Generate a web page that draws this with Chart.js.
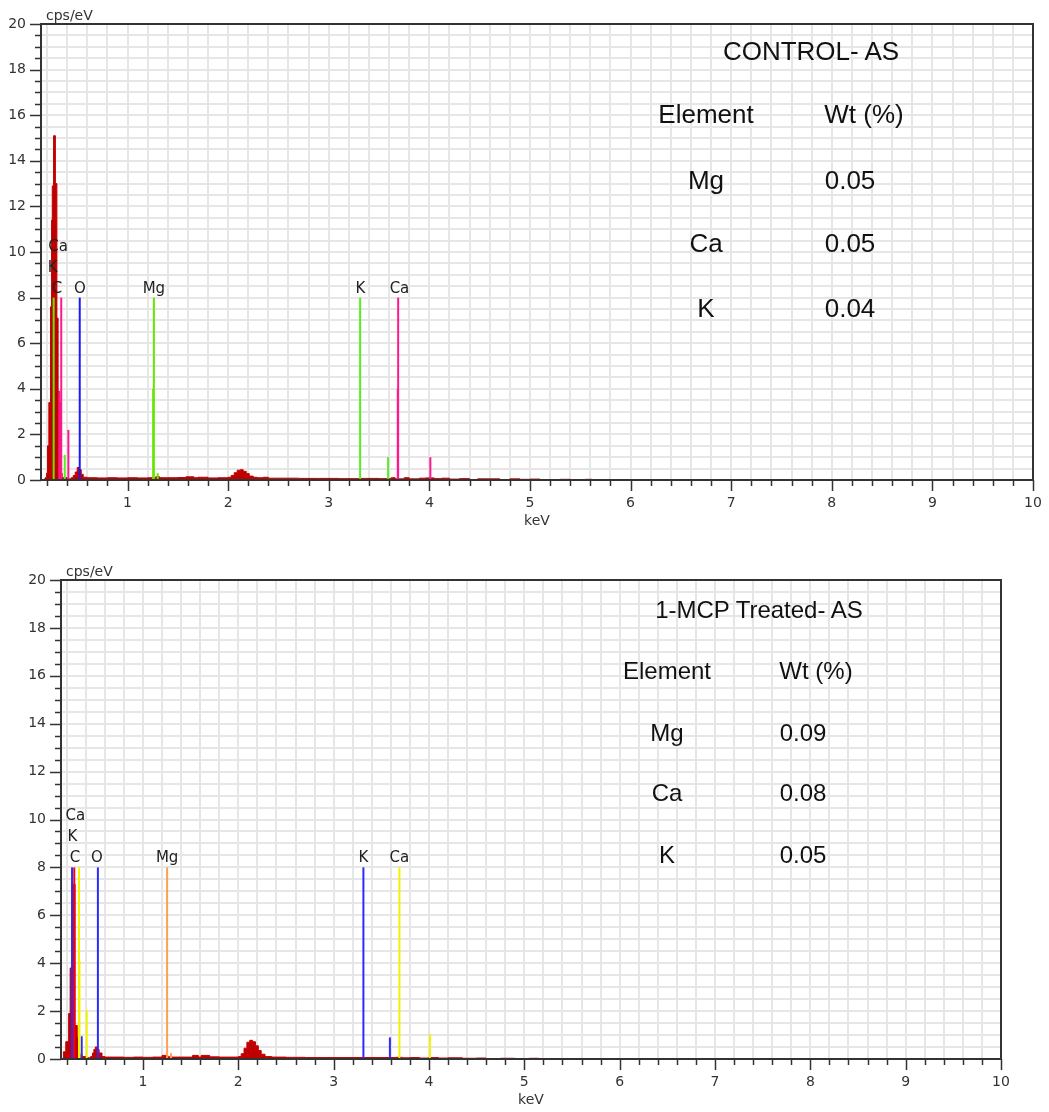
<!DOCTYPE html>
<html>
<head>
<meta charset="utf-8">
<script src="https://cdn.jsdelivr.net/npm/chart.js@4.4.1/dist/chart.umd.min.js"></script>
<style>
  html, body { margin: 0; padding: 0; background: #fff; }
  #wrap { position: relative; width: 1049px; height: 1112px; overflow: hidden; }
  canvas { position: absolute; left: 0; }
  .tx { position: absolute; font-family: "Liberation Sans", Arial, sans-serif; color: #111;
        line-height: 1; white-space: nowrap; transform: translate(-50%, -50%); }
</style>
</head>
<body>
<div id="wrap">
  <canvas id="c1" width="1049" height="530" style="top:0px"></canvas>
  <canvas id="c2" width="1049" height="553" style="top:556px"></canvas>
</div>
<script>
// ---------------- DATA ----------------
// Control spectrum (keV, cps/eV)
const ctrlKeV = [
  0.14, 0.18, 0.195, 0.205, 0.218, 0.235, 0.245, 0.252, 0.265, 0.283,
  0.298, 0.31, 0.322, 0.335, 0.35, 0.40, 0.44, 0.46, 0.48, 0.50,
  0.52, 0.54, 0.56, 0.60, 0.70, 0.80, 0.90, 1.00, 1.10, 1.20,
  1.28, 1.32, 1.40, 1.50, 1.58, 1.66, 1.70, 1.80, 1.90, 2.00,
  2.03, 2.06, 2.09, 2.12, 2.15, 2.18, 2.21, 2.25, 2.29, 2.35,
  2.40, 2.50, 2.70, 2.90, 3.10, 3.30, 3.50, 3.62, 3.66, 3.75,
  3.80, 3.90, 3.96, 4.05, 4.12, 4.20, 4.30, 4.40, 4.48, 4.60,
  4.70, 4.80, 4.90, 5.00, 5.10, 5.30, 5.40, 5.55, 5.62, 10
];
const ctrlCps = [
  0.02, 0.1, 0.3, 1.5, 3.4, 7.6, 11.4, 12.9, 15.1, 13.0,
  7.1, 3.9, 3.4, 0.3, 0.1, 0.05, 0.1, 0.2, 0.35, 0.55,
  0.45, 0.25, 0.12, 0.1, 0.09, 0.1, 0.09, 0.1, 0.09, 0.1,
  0.14, 0.1, 0.1, 0.11, 0.14, 0.1, 0.12, 0.09, 0.1, 0.12,
  0.2, 0.32, 0.43, 0.45, 0.38, 0.28, 0.17, 0.12, 0.1, 0.12,
  0.08, 0.08, 0.07, 0.07, 0.06, 0.07, 0.06, 0.1, 0.05, 0.1,
  0.05, 0.08, 0.09, 0.06, 0.08, 0.04, 0.06, 0.02, 0.05, 0.05,
  0.02, 0.05, 0.03, 0.04, 0.02, 0.03, 0.02, 0.03, 0, 0
];
// Control element marker lines
const ctrlLineEl  = ['C', 'Ca', 'Ca', 'K', 'Ca', 'O', 'Mg', 'Mg', 'Mg', 'K', 'K', 'Ca', 'Ca', 'Ca'];
const ctrlLineKeV = [0.266, 0.322, 0.341, 0.376, 0.412, 0.525, 1.255, 1.262, 1.30, 3.312, 3.59, 3.686, 3.69, 4.01];
const ctrlLineH   = [8, 3.9, 8, 1.1, 2.2, 8, 4, 8, 0.3, 8, 1.0, 4, 8, 1.0];
// Control peak labels
const ctrlLabText = ['Ca', 'K', 'C', 'O', 'Mg', 'K', 'Ca'];
const ctrlLabKeV  = [0.309, 0.255, 0.299, 0.527, 1.262, 3.315, 3.703];
const ctrlLabRow  = [2, 1, 0, 0, 0, 0, 0];
// Control table
const ctrlTitle = 'CONTROL- AS';
const ctrlTable = [['Element', 'Wt (%)'], ['Mg', '0.05'], ['Ca', '0.05'], ['K', '0.04']];

// 1-MCP treated spectrum
const mcpKeV = [
  0.13, 0.165, 0.19, 0.22, 0.236, 0.256, 0.288, 0.31, 0.33, 0.36,
  0.40, 0.45, 0.47, 0.485, 0.50, 0.52, 0.54, 0.57, 0.60, 0.70,
  0.80, 0.90, 1.00, 1.10, 1.20, 1.26, 1.30, 1.40, 1.48, 1.52,
  1.58, 1.61, 1.70, 1.80, 1.90, 2.00, 2.03, 2.06, 2.09, 2.12,
  2.15, 2.18, 2.21, 2.24, 2.28, 2.35, 2.50, 2.70, 2.90, 3.10,
  3.30, 3.50, 3.65, 3.72, 3.80, 3.90, 4.00, 4.10, 4.20, 4.35,
  4.50, 4.60, 4.75, 4.90, 5.05, 5.15, 5.22, 10
];
const mcpCps = [
  0.02, 0.3, 0.72, 1.9, 3.8, 7.3, 1.4, 0.9, 0.2, 0.1,
  0.05, 0.1, 0.25, 0.4, 0.5, 0.4, 0.25, 0.1, 0.08, 0.08,
  0.07, 0.08, 0.07, 0.08, 0.15, 0.09, 0.08, 0.08, 0.08, 0.15,
  0.08, 0.15, 0.09, 0.08, 0.08, 0.1, 0.22, 0.45, 0.7, 0.78,
  0.72, 0.55, 0.35, 0.2, 0.1, 0.08, 0.07, 0.06, 0.06, 0.06,
  0.06, 0.06, 0.07, 0.05, 0.06, 0.04, 0.06, 0.04, 0.05, 0.03,
  0.04, 0.02, 0.03, 0.02, 0.03, 0.02, 0, 0
];
const mcpLineEl  = ['K', 'C', 'Ca', 'Ca', 'K', 'Ca', 'O', 'Mg', 'Mg', 'K', 'K', 'Ca', 'Ca'];
const mcpLineKeV = [0.256, 0.279, 0.329, 0.334, 0.357, 0.41, 0.527, 1.253, 1.294, 3.312, 3.59, 3.69, 4.01];
const mcpLineH   = [8, 8, 8, 4.1, 0.95, 2.05, 8, 8, 0.24, 8, 0.9, 8, 1.05];
const mcpLabText = ['Ca', 'K', 'C', 'O', 'Mg', 'K', 'Ca'];
const mcpLabKeV  = [0.291, 0.26, 0.287, 0.517, 1.253, 3.312, 3.689];
const mcpLabRow  = [2, 1, 0, 0, 0, 0, 0];
const mcpTitle = '1-MCP Treated- AS';
const mcpTable = [['Element', 'Wt (%)'], ['Mg', '0.09'], ['Ca', '0.08'], ['K', '0.05']];

const xMin = 0.14, xMax = 10, yMin = 0, yMax = 20;
const yAxisTitle = 'cps/eV', xAxisTitle = 'keV';

// ---------------- STYLE ----------------
const ctrlColors = { C: '#66e600', Mg: '#66e600', K: '#55ee22', Ca: '#ff1a8c', O: '#1a1aff' };
const mcpColors  = { C: '#ff0000', Mg: '#ffa050', K: '#2b2bff', Ca: '#f2f200', O: '#2b2bff' };
const spectrumColor = '#c00000';
const tickFont = { family: 'DejaVu Sans', size: 14 };
const isInt = v => Math.abs(v - Math.round(v)) < 1e-6;

const decor = {
  id: 'decor',
  afterDatasetsDraw(chart, args, o) {
    const { ctx, scales: { x, y } } = chart;
    ctx.save();
    ctx.font = '15px "DejaVu Sans"';
    ctx.fillStyle = '#222';
    ctx.textAlign = 'center';
    ctx.textBaseline = 'alphabetic';
    const base = y.getPixelForValue(8) - 5;
    o.labText.forEach((t, i) => {
      ctx.fillText(t, x.getPixelForValue(o.labKeV[i]), base - o.labRow[i] * 21);
    });
    ctx.restore();
  },
  afterDraw(chart, args, o) {
    const { ctx, chartArea: a, scales: { x, y } } = chart;
    ctx.save();
    ctx.strokeStyle = '#333';
    ctx.lineWidth = 1.5;
    ctx.beginPath();
    x.ticks.forEach(t => {
      const px = Math.round(x.getPixelForValue(t.value)) + 0.5;
      const len = isInt(t.value) ? 11 : 6;
      ctx.moveTo(px, a.bottom); ctx.lineTo(px, a.bottom + len);
    });
    y.ticks.forEach(t => {
      const py = Math.round(y.getPixelForValue(t.value)) + 0.5;
      const len = (isInt(t.value) && Math.round(t.value) % 2 === 0) ? 11 : 6;
      ctx.moveTo(a.left, py); ctx.lineTo(a.left - len, py);
    });
    ctx.stroke();
    ctx.lineWidth = 2;
    ctx.strokeStyle = '#333';
    ctx.strokeRect(Math.round(a.left), Math.round(a.top), Math.round(a.right - a.left), Math.round(a.bottom - a.top));
    ctx.fillStyle = '#333';
    ctx.font = '14px "DejaVu Sans"';
    ctx.textAlign = 'left';
    ctx.textBaseline = 'alphabetic';
    ctx.fillText(yAxisTitle, a.left + 5, a.top - 4);
    ctx.textAlign = 'center';
    ctx.textBaseline = 'middle';
    ctx.fillText(xAxisTitle, (a.left + a.right) / 2, a.bottom + 41);
    ctx.restore();
  }
};

function buildChart(id, s) {
  const datasets = [{
    data: s.keV.map((k, i) => ({ x: k, y: s.cps[i] })),
    borderColor: spectrumColor, backgroundColor: spectrumColor, borderWidth: 1,
    pointRadius: 0, fill: 'origin', stepped: true, order: 10
  }];
  s.lineKeV.forEach((k, i) => {
    datasets.push({
      data: [{ x: k, y: 0 }, { x: k, y: s.lineH[i] }],
      borderColor: s.colors[s.lineEl[i]], borderWidth: 2, pointRadius: 0, fill: false, order: 1
    });
  });
  return new Chart(document.getElementById(id), {
    type: 'line',
    data: { datasets },
    options: {
      responsive: false, animation: false, devicePixelRatio: 1,
      layout: { padding: { left: 0, right: s.padRight, top: 24, bottom: 0 } },
      plugins: {
        legend: { display: false }, tooltip: { enabled: false },
        decor: { labText: s.labText, labKeV: s.labKeV, labRow: s.labRow }
      },
      scales: {
        x: {
          type: 'linear', min: xMin, max: xMax,
          ticks: { stepSize: 0.2, includeBounds: false, autoSkip: false, maxRotation: 0, padding: 2,
                   font: tickFont, color: '#333',
                   callback: v => isInt(v) ? String(Math.round(v)) : '' },
          grid: { color: '#e6e6e6', lineWidth: 2, drawTicks: true, tickLength: 13, tickColor: 'rgba(0,0,0,0)' },
          border: { display: false },
          afterFit: sc => { sc.height = 50; }
        },
        y: {
          type: 'linear', min: yMin, max: yMax,
          ticks: { stepSize: 0.5, autoSkip: false, padding: 15, font: tickFont, color: '#333',
                   callback: v => (isInt(v) && Math.round(v) % 2 === 0) ? String(Math.round(v)) : '' },
          grid: { color: '#e6e6e6', lineWidth: 2, drawTicks: false },
          border: { display: false },
          afterFit: sc => { sc.width = s.yWidth; }
        }
      }
    },
    plugins: [decor]
  });
}

buildChart('c1', { keV: ctrlKeV, cps: ctrlCps, lineKeV: ctrlLineKeV, lineH: ctrlLineH, lineEl: ctrlLineEl,
  colors: ctrlColors, labText: ctrlLabText, labKeV: ctrlLabKeV, labRow: ctrlLabRow, padRight: 16, yWidth: 41 });
buildChart('c2', { keV: mcpKeV, cps: mcpCps, lineKeV: mcpLineKeV, lineH: mcpLineH, lineEl: mcpLineEl,
  colors: mcpColors, labText: mcpLabText, labKeV: mcpLabKeV, labRow: mcpLabRow, padRight: 48, yWidth: 61 });

// ---------------- TABLE TEXT (HTML) ----------------
const wrap = document.getElementById('wrap');
function addText(txt, x, y, size) {
  const d = document.createElement('div');
  d.className = 'tx';
  d.textContent = txt;
  d.style.left = x + 'px';
  d.style.top = y + 'px';
  d.style.fontSize = size + 'px';
  wrap.appendChild(d);
}
function addTable(title, rows, L) {
  addText(title, L.titleX, L.titleY, L.size);
  rows.forEach((r, i) => {
    const yy = L.rowY[i];
    addText(r[0], i === 0 ? L.hdrX[0] : L.colX[0], yy, L.size);
    addText(r[1], i === 0 ? L.hdrX[1] : L.colX[1], yy, L.size);
  });
}
addTable(ctrlTitle, ctrlTable, { titleX: 811, titleY: 51, size: 26, hdrX: [706, 864], colX: [706, 850], rowY: [114, 180, 243, 308] });
addTable(mcpTitle, mcpTable, { titleX: 759, titleY: 610, size: 24, hdrX: [667, 816], colX: [667, 803], rowY: [671, 733, 793, 855] });
</script>
</body>
</html>
